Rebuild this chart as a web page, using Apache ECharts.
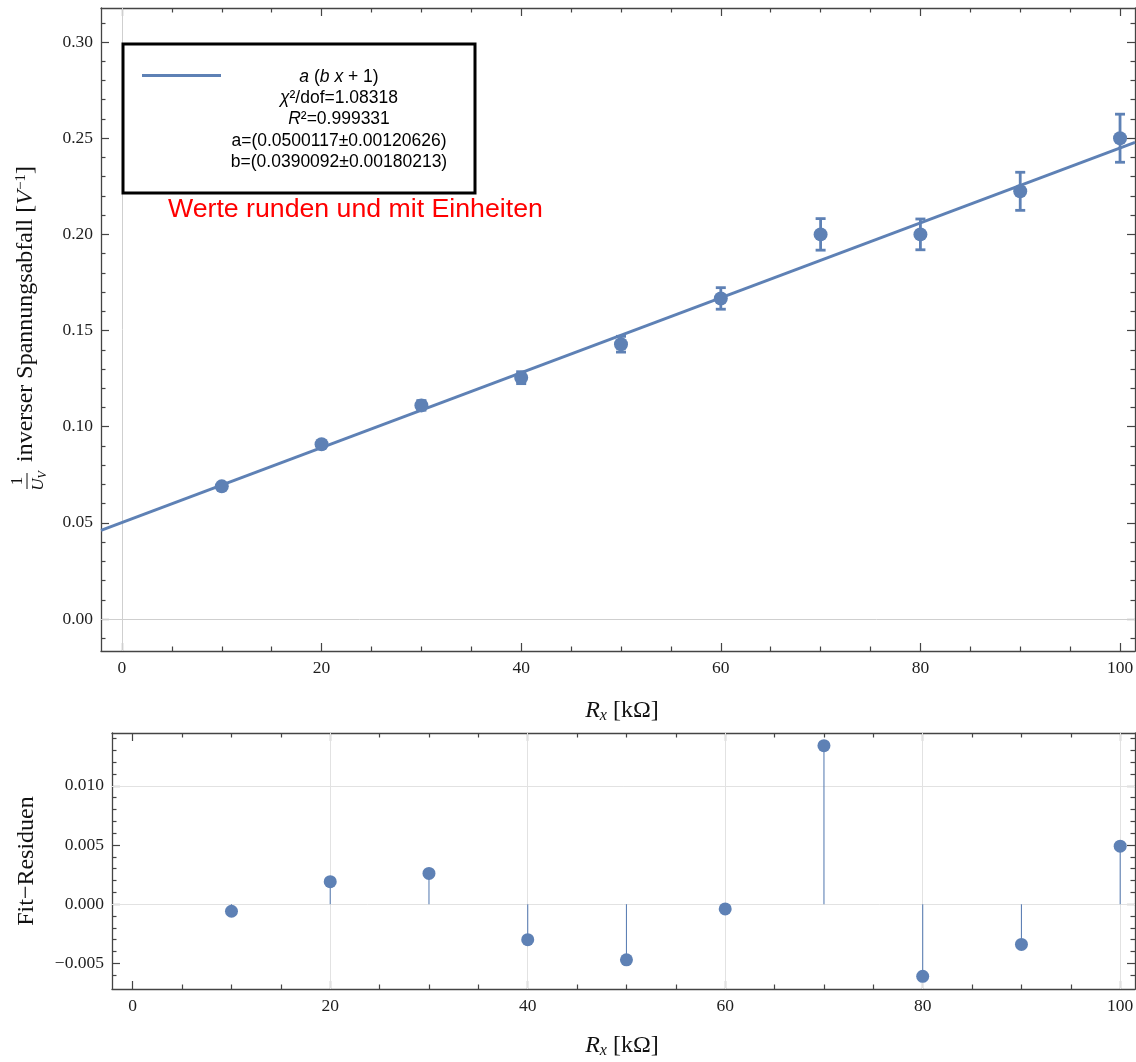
<!DOCTYPE html>
<html>
<head>
<meta charset="utf-8">
<title>Spannungsabfall Fit</title>
<script src="https://cdn.jsdelivr.net/npm/echarts@6/dist/echarts.min.js"></script>
<style>
html,body{margin:0;padding:0;background:#fff;}
#main{width:1136px;height:1062px;}
</style>
</head>
<body>
<div id="main"></div>
<script>
// Messwerte R_x [kOhm], 1/U_V [1/V] und Fehler
var rx = [10, 20, 30, 40, 50, 60, 70, 80, 90, 100];
var invU = [0.0690, 0.0909, 0.1111, 0.1255, 0.1429, 0.1667, 0.2000, 0.2000, 0.2224, 0.2500];
var invUErr = [0.0010, 0.0017, 0.0025, 0.0031, 0.0041, 0.0056, 0.0082, 0.0080, 0.0099, 0.0125];
// Fit-Residuen
var residuals = [-0.0006, 0.0019, 0.0026, -0.0030, -0.0047, -0.0004, 0.0134, -0.0061, -0.0034, 0.0049];
var fitX = [-2.1, 101.5];
var fitY = [0.0461, 0.2478];

// Achsenstriche
var xTicks = [0, 20, 40, 60, 80, 100];
var xMinor = [5, 10, 15, 25, 30, 35, 45, 50, 55, 65, 70, 75, 85, 90, 95];
var yTicks = [0, 0.05, 0.10, 0.15, 0.20, 0.25, 0.30];
var yMinor = [-0.01, 0.01, 0.02, 0.03, 0.04, 0.06, 0.07, 0.08, 0.09, 0.11, 0.12, 0.13, 0.14,
              0.16, 0.17, 0.18, 0.19, 0.21, 0.22, 0.23, 0.24, 0.26, 0.27, 0.28, 0.29, 0.31];
var resTicks = [-0.005, 0, 0.005, 0.010];
var resMinor = [-0.006, -0.004, -0.003, -0.002, -0.001, 0.001, 0.002, 0.003, 0.004,
                0.006, 0.007, 0.008, 0.009, 0.011, 0.012, 0.013, 0.014];
var resGridX = [20, 40, 60, 80, 100];
var resGridY = [-0.005, 0, 0.005, 0.010];

var blue = '#5e81b5';
var frameColor = '#444';
var serif = 'Liberation Serif';
var sans = 'Liberation Sans';

//Rahmenachsen: pro Seite eine Achse mit Hauptstrichen und eine mit Nebenstrichen
function frameAxes(dim, gridIndex, range, major, minor, fmt){
	var sides = dim === 'x' ? ['bottom', 'top'] : ['left', 'right'];
	var list = [];
	sides.forEach(function(side, s){
		list.push({
			type: 'value', gridIndex: gridIndex, position: side,
			min: range[0], max: range[1],
			axisLine: {show: true, onZero: false, lineStyle: {color: frameColor, width: 1.3}},
			axisTick: {show: true, inside: true, length: 8, customValues: major,
				lineStyle: {color: frameColor, width: 1.2}},
			axisLabel: {show: s === 0, customValues: major, formatter: fmt, margin: 8,
				color: '#1e1e1e', fontFamily: serif, fontSize: 17.5},
			splitLine: {show: false}
		});
		list.push({
			type: 'value', gridIndex: gridIndex, position: side,
			min: range[0], max: range[1],
			axisLine: {show: false, onZero: false},
			axisTick: {show: true, inside: true, length: 4.5, customValues: minor,
				lineStyle: {color: frameColor, width: 1.2}},
			axisLabel: {show: false},
			splitLine: {show: false}
		});
	});
	return list;
}

function fmtInt(v){ return String(Math.round(v)); }
function fmt2(v){ return v.toFixed(2); }
function fmt3(v){ return (v < -1e-9 ? '\u2212' : '') + Math.abs(v).toFixed(3); }

var xRange = [-2.1, 101.5];
var xAxes = frameAxes('x', 0, xRange, xTicks, xMinor, fmtInt)
	.concat(frameAxes('x', 1, xRange, xTicks, xMinor, fmtInt));
var yAxes = frameAxes('y', 0, [-0.0166, 0.3177], yTicks, yMinor, fmt2)
	.concat(frameAxes('y', 1, [-0.00717, 0.01447], resTicks, resMinor, fmt3));

var points = rx.map(function(x, i){ return [x, invU[i], invUErr[i]]; });
var resPoints = rx.map(function(x, i){ return [x, residuals[i]]; });
var fitData = fitX.map(function(x, i){ return [x, fitY[i]]; });

//Fehlerbalken mit Kappen
function errorBar(params, api){
	var x = api.value(0), y = api.value(1), e = api.value(2);
	var hi = api.coord([x, y + e]), lo = api.coord([x, y - e]);
	var cap = 5;
	var st = {stroke: blue, lineWidth: 2.8};
	return {type: 'group', children: [
		{type: 'line', shape: {x1: hi[0], y1: hi[1], x2: lo[0], y2: lo[1]}, style: st},
		{type: 'line', shape: {x1: hi[0] - cap, y1: hi[1], x2: hi[0] + cap, y2: hi[1]}, style: st},
		{type: 'line', shape: {x1: lo[0] - cap, y1: lo[1], x2: lo[0] + cap, y2: lo[1]}, style: st}
	]};
}
//Stiel von Null bis zum Residuum
function stem(params, api){
	var p0 = api.coord([api.value(0), 0]);
	var p1 = api.coord([api.value(0), api.value(1)]);
	return {type: 'line', shape: {x1: p0[0], y1: p0[1], x2: p1[0], y2: p1[1]},
		style: {stroke: blue, lineWidth: 1.1}};
}

function gridLines(xs, ys){
	return xs.map(function(v){ return {xAxis: v}; })
		.concat(ys.map(function(v){ return {yAxis: v}; }));
}

var supTok = {fontFamily: serif, fontSize: 15, lineHeight: 15, padding: [0, 0, 10, 0], fill: '#111'};
var subTok = {fontFamily: serif, fontStyle: 'italic', fontSize: 16, lineHeight: 16, padding: [10, 0, 0, 0], fill: '#111'};
var titleRich = {
	n: {fontFamily: serif, fontSize: 24, lineHeight: 24, fill: '#111'},
	i: {fontFamily: serif, fontStyle: 'italic', fontSize: 24, lineHeight: 24, fill: '#111'},
	sub: subTok,
	sup: supTok
};
var legendRich = {
	n: {fontFamily: sans, fontSize: 17.5, fill: '#000'},
	i: {fontFamily: sans, fontStyle: 'italic', fontSize: 17.5, fill: '#000'}
};
var legendLines = [
	'{i|a}{n| (}{i|b}{n| }{i|x}{n| + 1)}',
	'{i|\u03c7}{n|\u00b2/dof=1.08318}',
	'{i|R}{n|\u00b2=0.999331}',
	'{n|a=(0.0500117\u00b10.00120626)}',
	'{n|b=(0.0390092\u00b10.00180213)}'
];

var graphics = [
	//Legende
	{type: 'rect', z: 100, shape: {x: 123, y: 44, width: 352, height: 149},
		style: {fill: '#fff', stroke: '#000', lineWidth: 3}},
	{type: 'line', z: 101, shape: {x1: 142, y1: 75.5, x2: 221, y2: 75.5},
		style: {stroke: blue, lineWidth: 3}},
	{type: 'text', z: 101, left: 168, top: 196,
		style: {text: 'Werte runden und mit Einheiten', fill: '#ff0000', font: '26.7px "Liberation Sans"'}},
	//Achsentitel
	{type: 'text', z: 50, x: 622, y: 711,
		style: {text: '{i|R}{sub|x}{n| [k\u03a9]}', rich: titleRich, align: 'center', verticalAlign: 'middle'}},
	{type: 'text', z: 50, x: 622, y: 1046,
		style: {text: '{i|R}{sub|x}{n| [k\u03a9]}', rich: titleRich, align: 'center', verticalAlign: 'middle'}},
	{type: 'text', z: 50, x: 27, y: 861, rotation: Math.PI / 2,
		style: {text: 'Fit\u2212Residuen', font: '24px "Liberation Serif"', fill: '#111', align: 'center', verticalAlign: 'middle'}},
	{type: 'group', z: 50, x: 30, y: 481, rotation: Math.PI / 2, children: [
		{type: 'text', x: 0, y: -12,
			style: {text: '1', font: '17px "Liberation Serif"', fill: '#111', align: 'center', verticalAlign: 'middle'}},
		{type: 'line', shape: {x1: -8, y1: -3, x2: 8, y2: -3}, style: {stroke: '#111', lineWidth: 1}},
		{type: 'text', x: 0, y: 9,
			style: {text: '{u|U}{v|V}', align: 'center', verticalAlign: 'middle',
				rich: {u: {fontFamily: serif, fontStyle: 'italic', fontSize: 17, lineHeight: 17, fill: '#111'},
					v: {fontFamily: serif, fontStyle: 'italic', fontSize: 12, lineHeight: 12, padding: [7, 0, 0, 0], fill: '#111'}}}},
		{type: 'text', x: 19, y: -4,
			style: {text: '{n|inverser Spannungsabfall [}{i|V}{sup|\u22121}{n|]}', rich: titleRich,
				align: 'left', verticalAlign: 'middle'}}
	]}
];
legendLines.forEach(function(t, i){
	graphics.push({type: 'text', z: 101, x: 339, y: 77 + i * 21.25,
		style: {text: t, rich: legendRich, align: 'center', verticalAlign: 'middle'}});
});

var chart = echarts.init(document.getElementById('main'), null, {renderer: 'canvas'});
chart.setOption({
	animation: false,
	backgroundColor: '#fff',
	grid: [
		{left: 101, top: 8, width: 1034, height: 643, outerBoundsMode: 'none', containLabel: false},
		{left: 112, top: 733, width: 1023, height: 256, outerBoundsMode: 'none', containLabel: false}
	],
	xAxis: xAxes,
	yAxis: yAxes,
	graphic: graphics,
	series: [
		{//Gitterlinien oben
			type: 'line', xAxisIndex: 0, yAxisIndex: 0, data: [], z: 1, silent: true,
			markLine: {silent: true, z: 1, symbol: 'none', label: {show: false},
				lineStyle: {color: '#cfcfcf', width: 1, type: 'solid'},
				data: gridLines([0], [0])}
		},
		{
			name: 'fit', type: 'line', xAxisIndex: 0, yAxisIndex: 0, data: fitData,
			showSymbol: false, symbol: 'none', z: 3,
			lineStyle: {color: blue, width: 3}
		},
		{
			type: 'custom', xAxisIndex: 0, yAxisIndex: 0, data: points, z: 4,
			renderItem: errorBar, encode: {x: 0, y: 1}
		},
		{
			type: 'scatter', xAxisIndex: 0, yAxisIndex: 0, data: points, z: 5,
			symbolSize: 14, itemStyle: {color: blue, opacity: 1}
		},
		{//Gitterlinien unten
			type: 'line', xAxisIndex: 4, yAxisIndex: 4, data: [], z: 1, silent: true,
			markLine: {silent: true, z: 1, symbol: 'none', label: {show: false},
				lineStyle: {color: '#e2e2e2', width: 1, type: 'solid'},
				data: gridLines(resGridX, resGridY)}
		},
		{
			type: 'custom', xAxisIndex: 4, yAxisIndex: 4, data: resPoints, z: 3,
			renderItem: stem, encode: {x: 0, y: 1}
		},
		{
			type: 'scatter', xAxisIndex: 4, yAxisIndex: 4, data: resPoints, z: 5,
			symbolSize: 13, itemStyle: {color: blue, opacity: 1}
		}
	]
});
</script>
</body>
</html>
